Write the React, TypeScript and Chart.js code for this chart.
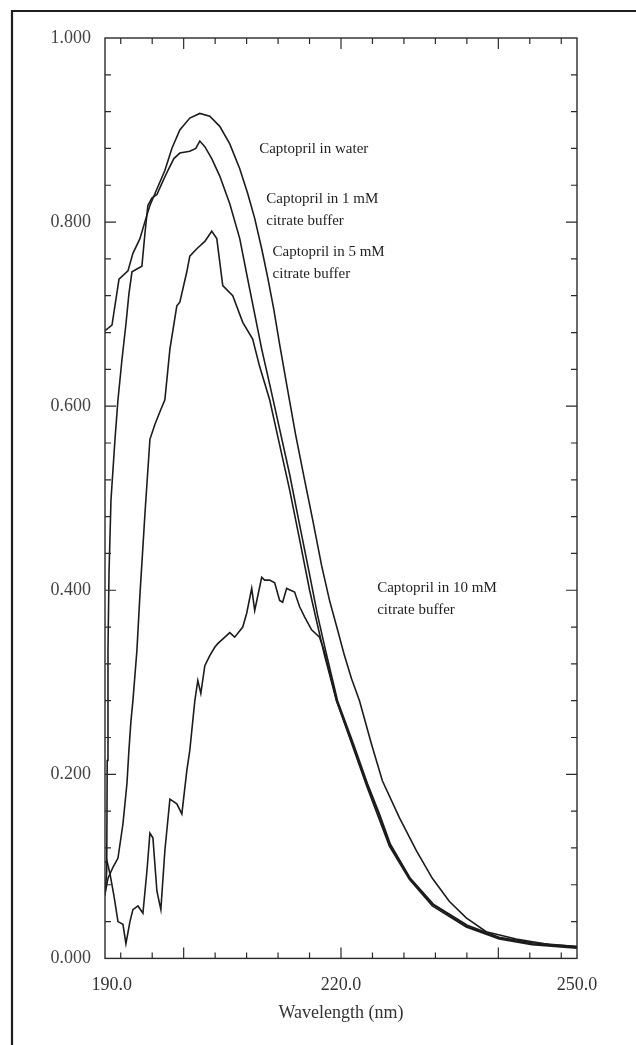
import { useEffect, useRef } from "react";
import { Chart, registerables } from "chart.js";

Chart.register(...registerables);

// ---- data (wavelength nm, absorbance) ----
const waterX = [190.00,190.89,191.78,192.92,193.55,194.44,195.20,195.71,196.60,197.61,198.50,199.51,200.78,202.05,203.32,204.59,205.86,207.13,208.14,209.03,209.92,210.68,211.44,212.20,213.21,214.23,215.37,216.39,217.53,218.54,219.56,220.44,221.33,222.35,223.87,225.26,227.42,229.58,231.61,233.76,235.92,238.46,242.26,246.45,250.00];
const waterY = [0.682,0.688,0.738,0.747,0.766,0.782,0.804,0.818,0.836,0.856,0.880,0.900,0.913,0.918,0.915,0.904,0.885,0.858,0.831,0.804,0.771,0.740,0.706,0.667,0.618,0.569,0.520,0.477,0.427,0.389,0.357,0.329,0.304,0.280,0.233,0.193,0.153,0.117,0.087,0.062,0.044,0.029,0.021,0.015,0.013];

const c1X = [190.00,190.22,190.28,190.38,190.51,190.76,191.27,191.65,192.16,192.66,193.04,193.43,194.06,194.69,195.07,195.45,195.96,196.60,197.23,197.99,198.75,199.51,200.78,201.54,202.05,202.69,203.57,204.59,205.86,207.13,208.14,209.03,209.92,210.93,212.20,213.47,214.74,216.01,217.02,218.03,219.56,221.59,223.36,224.88,226.28,228.82,231.73,236.05,240.11,244.29,250.00];
const c1Y = [0.068,0.095,0.215,0.335,0.419,0.498,0.564,0.607,0.651,0.689,0.722,0.746,0.749,0.752,0.787,0.818,0.826,0.830,0.842,0.856,0.869,0.875,0.877,0.880,0.888,0.882,0.869,0.850,0.820,0.782,0.738,0.700,0.662,0.624,0.575,0.526,0.471,0.417,0.373,0.335,0.280,0.233,0.190,0.157,0.124,0.087,0.059,0.036,0.023,0.017,0.013];

const c5X = [190.00,190.38,191.01,191.65,192.28,192.79,193.04,193.30,193.55,194.06,194.44,195.07,195.71,196.34,196.98,197.61,198.25,199.13,199.51,200.40,200.78,201.67,202.05,202.69,203.57,204.21,204.97,206.24,207.51,208.77,209.66,210.93,212.20,213.47,214.74,216.01,217.02,217.91,219.43,221.46,223.24,224.88,226.15,228.69,231.61,235.92,240.11,244.29,250.00];
const c5Y = [0.070,0.087,0.099,0.109,0.146,0.190,0.226,0.258,0.280,0.335,0.395,0.482,0.564,0.580,0.594,0.607,0.662,0.709,0.713,0.746,0.763,0.771,0.774,0.779,0.790,0.782,0.731,0.720,0.691,0.673,0.643,0.607,0.558,0.509,0.455,0.400,0.362,0.329,0.280,0.233,0.190,0.155,0.124,0.087,0.059,0.035,0.022,0.016,0.012];

const c10X = [190.00,190.25,190.63,191.14,191.65,192.28,192.66,193.17,193.55,194.19,194.82,195.33,195.71,196.09,196.60,197.10,197.61,198.25,199.13,199.77,200.40,200.78,201.42,201.80,202.18,202.69,203.32,203.95,204.33,205.48,205.86,206.49,207.51,208.01,208.65,209.03,209.92,210.30,210.93,211.57,212.20,212.58,213.09,214.10,214.74,215.37,216.26,217.27,217.91,219.43,221.46,223.24,226.15,228.69,231.61,235.92,240.11,244.29,250.00];
const c10Y = [0.104,0.106,0.092,0.068,0.040,0.037,0.016,0.040,0.053,0.057,0.049,0.095,0.136,0.131,0.073,0.053,0.117,0.173,0.168,0.157,0.204,0.226,0.280,0.302,0.288,0.318,0.329,0.338,0.342,0.351,0.354,0.349,0.360,0.375,0.402,0.378,0.414,0.411,0.411,0.408,0.389,0.387,0.402,0.398,0.382,0.371,0.357,0.349,0.333,0.280,0.231,0.188,0.122,0.086,0.057,0.034,0.021,0.015,0.011];

// ---- axes ----
const xLabels = [190, 220, 250];
const yLabels = [0, 0.2, 0.4, 0.6, 0.8, 1.0];
const xMinorStep = 4;
const xMajorStep = 20;
const yMinorStep = 0.04;

// ---- annotations: [text lines, x, y] ----
const annotations: [string[], number, number][] = [
  [["Captopril in water"], 209.6, 0.879],
  [["Captopril in 1 mM", "citrate buffer"], 210.5, 0.8255],
  [["Captopril in 5 mM", "citrate buffer"], 211.3, 0.7677],
  [["Captopril in 10 mM", "citrate buffer"], 224.6, 0.4024],
];

const SERIF = "'Liberation Serif', 'DejaVu Serif', serif";

function zip(xs: number[], ys: number[]) {
  const n = Math.min(xs.length, ys.length);
  const out: { x: number; y: number }[] = [];
  for (let i = 0; i < n; i++) out.push({ x: xs[i], y: ys[i] });
  return out;
}

const framePlugin = {
  id: "frame",
  afterDraw(chart: any) {
    const { ctx, chartArea: a, scales } = chart;
    const xs = scales.x;
    const ys = scales.y;
    ctx.save();
    // outer page border
    ctx.strokeStyle = "#1e1e1e";
    ctx.lineWidth = 2.2;
    ctx.beginPath();
    ctx.moveTo(12, 1045);
    ctx.lineTo(12, 11);
    ctx.lineTo(640, 11);
    ctx.stroke();

    // plot frame
    ctx.strokeStyle = "#2a2a2a";
    ctx.lineWidth = 1.4;
    ctx.strokeRect(a.left, a.top, a.right - a.left, a.bottom - a.top);

    // inner ticks
    ctx.lineWidth = 1.2;
    ctx.beginPath();
    for (let v = 192; v < 250; v += xMinorStep) {
      const px = xs.getPixelForValue(v);
      const len = v % xMajorStep === 0 ? 11 : 6;
      ctx.moveTo(px, a.bottom);
      ctx.lineTo(px, a.bottom - len);
      ctx.moveTo(px, a.top);
      ctx.lineTo(px, a.top + len);
    }
    for (let i = 1; i < 25; i++) {
      const py = ys.getPixelForValue(i * yMinorStep);
      const len = i % 5 === 0 ? 11 : 6;
      ctx.moveTo(a.left, py);
      ctx.lineTo(a.left + len, py);
      ctx.moveTo(a.right, py);
      ctx.lineTo(a.right - len, py);
    }
    ctx.stroke();

    // annotations
    ctx.fillStyle = "#1e1e1e";
    ctx.font = `15px ${SERIF}`;
    ctx.textAlign = "left";
    ctx.textBaseline = "middle";
    for (const [lines, x, y] of annotations) {
      const px = xs.getPixelForValue(x);
      const py = ys.getPixelForValue(y);
      lines.forEach((t, k) => ctx.fillText(t, px, py + k * 22));
    }

    // x axis title
    ctx.fillStyle = "#333";
    ctx.font = `18px ${SERIF}`;
    ctx.textAlign = "center";
    ctx.fillText("Wavelength (nm)", (a.left + a.right) / 2, a.bottom + 55);
    ctx.restore();
  },
};

export default function App() {
  const ref = useRef<HTMLCanvasElement | null>(null);
  useEffect(() => {
    if (!ref.current) return;
    const line = (data: { x: number; y: number }[]) => ({
      data,
      borderColor: "#1c1c1c",
      borderWidth: 1.6,
      pointRadius: 0,
      fill: false,
      tension: 0,
    });
    const chart = new Chart(ref.current, {
      type: "line",
      data: {
        datasets: [
          line(zip(waterX, waterY)),
          line(zip(c1X, c1Y)),
          line(zip(c5X, c5Y)),
          line(zip(c10X, c10Y)),
        ],
      },
      options: {
        animation: false,
        responsive: false,
        layout: { padding: { left: 36.5, right: 59, top: 38, bottom: 33 } },
        plugins: { legend: { display: false }, tooltip: { enabled: false } },
        scales: {
          x: {
            type: "linear",
            min: 190,
            max: 250,
            afterBuildTicks: (s: any) => {
              s.ticks = xLabels.map((v) => ({ value: v }));
            },
            grid: { display: false, drawTicks: false },
            border: { display: false },
            ticks: {
              autoSkip: false,
              maxRotation: 0,
              padding: 16,
              color: "#333",
              font: { family: SERIF, size: 18 },
              callback: (v: any) => (v === 190 ? "   " : "") + Number(v).toFixed(1),
            },
          },
          y: {
            type: "linear",
            min: 0,
            max: 1,
            afterBuildTicks: (s: any) => {
              s.ticks = yLabels.map((v) => ({ value: v }));
            },
            grid: { display: false, drawTicks: false },
            border: { display: false },
            ticks: {
              padding: 14,
              color: "#444",
              font: { family: SERIF, size: 18 },
              callback: (v: any) => Number(v).toFixed(3),
            },
          },
        },
      },
      plugins: [framePlugin],
    });
    return () => chart.destroy();
  }, []);
  return (
    <div style={{ position: "absolute", left: 0, top: 0, width: 636, height: 1045, background: "#fff" }}>
      <canvas ref={ref} width={636} height={1045} style={{ display: "block" }} />
    </div>
  );
}
